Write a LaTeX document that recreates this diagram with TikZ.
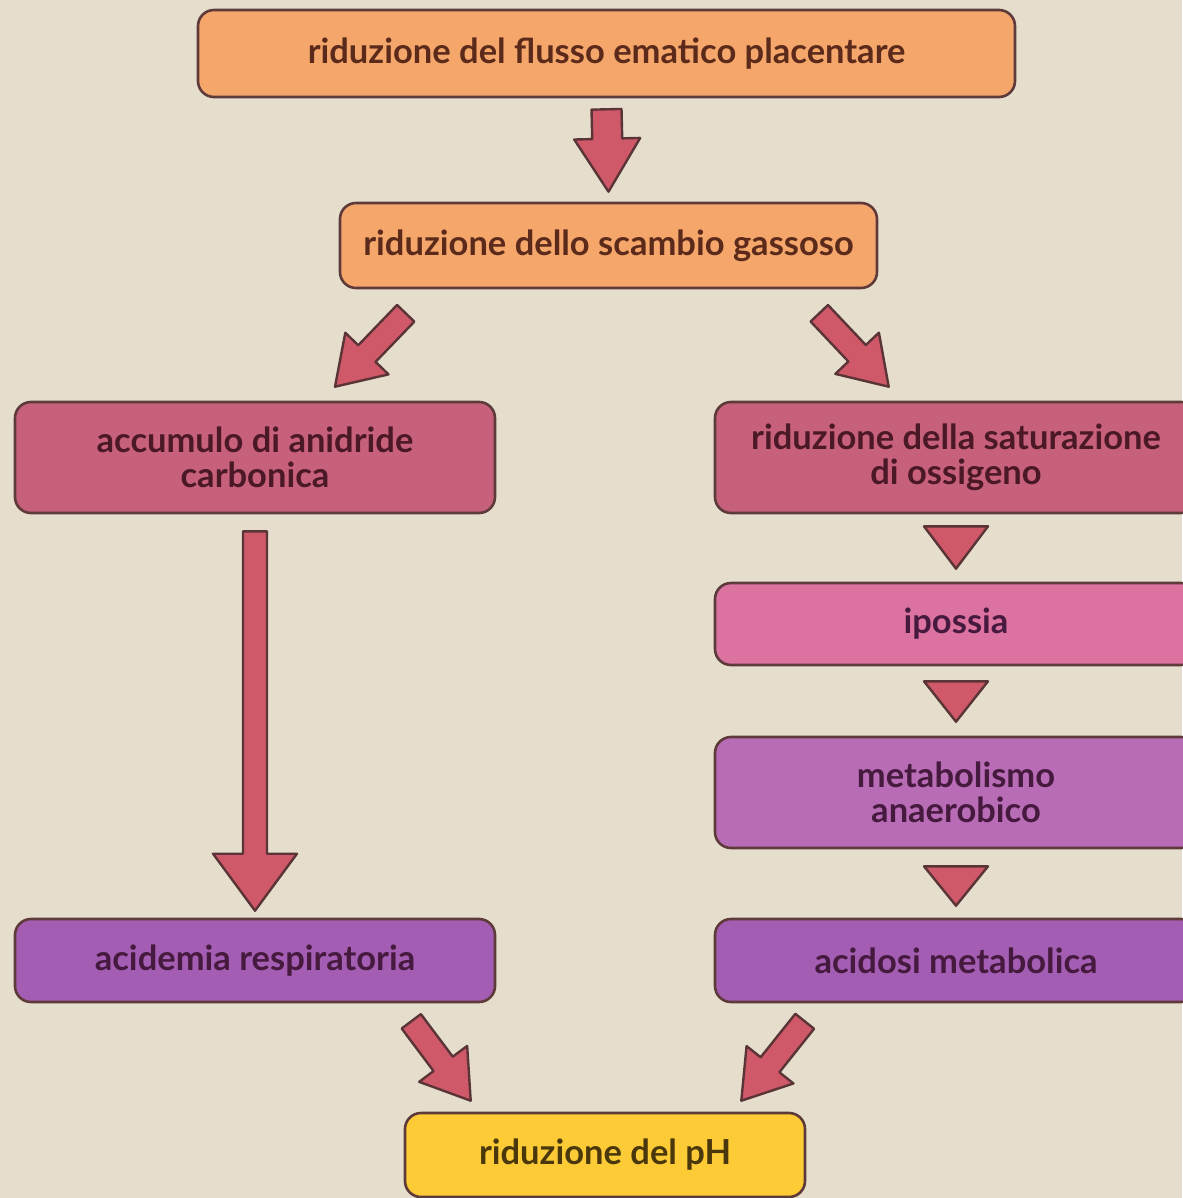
\documentclass[tikz,border=0pt]{standalone}
\usepackage{fontspec}
\setmainfont{Lato}
\usetikzlibrary{calc}
\definecolor{bg}{HTML}{E5DECC}
\definecolor{orng}{HTML}{F4A66B}
\definecolor{rose}{HTML}{C7607A}
\definecolor{pinkb}{HTML}{DB72A0}
\definecolor{mauve}{HTML}{B96CB6}
\definecolor{purp}{HTML}{A35DB2}
\definecolor{yell}{HTML}{FCCB36}
\definecolor{arrfill}{HTML}{CF5968}
\definecolor{arrline}{HTML}{5A3436}
\definecolor{boxline}{HTML}{5E3A3A}
\definecolor{txtor}{HTML}{5B2A1A}
\definecolor{txtro}{HTML}{4A1826}
\definecolor{txtpu}{HTML}{461A3E}
\definecolor{txtye}{HTML}{4A380C}
\newcommand\blockarr[5]{%
  \coordinate (ba-h) at ($(#2)!#5!(#1)$);
  \draw[arrsty] ($(#1)!#3!90:(#2)$) -- ($(ba-h)!#3!90:(#2)$) -- ($(ba-h)!#4!90:(#2)$) -- (#2)
    -- ($(ba-h)!#4!-90:(#2)$) -- ($(ba-h)!#3!-90:(#2)$) -- ($(#1)!#3!-90:(#2)$) -- cycle;
}
\begin{document}
\begin{tikzpicture}[x=1pt,y=-1pt,
  box/.style={draw=boxline, line width=2.6pt, rounded corners=16pt, align=center,
    font=\fontsize{34.5}{35}\selectfont\bfseries, inner sep=0pt},
  arrsty/.style={draw=arrline, fill=arrfill, line width=2.4pt, line join=round}]
\useasboundingbox (0,0) rectangle (1182,1198);
\fill[bg] (0,0) rectangle (1182,1198);

\node[box, fill=orng, text=txtor, minimum width=817pt, minimum height=87pt] (b1) at (606.5,53.5) {riduzione del flusso ematico placentare};
\node[box, fill=orng, text=txtor, minimum width=537pt, minimum height=85pt] (b2) at (608.5,245.5) {riduzione dello scambio gassoso};
\node[box, fill=rose, text=txtro, minimum width=480pt, minimum height=111pt] (b3) at (255,457.5) {accumulo di anidride\\carbonica};
\node[box, fill=rose, text=txtro, minimum width=482pt, minimum height=111pt] (b4) at (956,457.5) {riduzione della saturazione\\di ossigeno};
\node[box, fill=pinkb, text=txtpu, minimum width=482pt, minimum height=82pt] (b5) at (956,624) {ipossia};
\node[box, fill=mauve, text=txtpu, minimum width=482pt, minimum height=111pt] (b6) at (956,792.5) {metabolismo\\anaerobico};
\node[box, fill=purp, text=txtpu, minimum width=482pt, minimum height=83pt] (b7) at (956,960.5) {acidosi metabolica};
\node[box, fill=purp, text=txtpu, minimum width=480pt, minimum height=83pt] (b8) at (255,960.5) {acidemia respiratoria};
\node[box, fill=yell, text=txtye, minimum width=400pt, minimum height=84pt] (b9) at (605,1155) {riduzione del pH};

% block arrows
\coordinate (a1t) at ($(b1.south)+(0,11)$);
\coordinate (a1h) at ($(b2.north)+(0,-10)$);
\blockarr{a1t}{a1h}{15pt}{33pt}{53pt}

\coordinate (d1t) at ($(b2.south west)+(67,24)$);
\coordinate (d1h) at ($(b3.north)+(80,-14)$);
\blockarr{d1t}{d1h}{12pt}{30pt}{46pt}

\coordinate (d2t) at ($(b2.south east)+(-59,24)$);
\coordinate (d2h) at ($(b4.north west)+(175,-14)$);
\blockarr{d2t}{d2h}{12pt}{30pt}{46pt}

\coordinate (vt) at ($(b3.south)+(0,17)$);
\coordinate (vh) at ($(b8.north)+(0,-7)$);
\blockarr{vt}{vh}{12pt}{42pt}{57pt}

\coordinate (e1t) at ($(b8.south east)+(-85,18)$);
\coordinate (e1h) at ($(b9.north west)+(67,-11)$);
\blockarr{e1t}{e1h}{12pt}{30pt}{46pt}

\coordinate (e2t) at ($(b7.south west)+(91,18)$);
\coordinate (e2h) at ($(b9.north east)+(-65,-11)$);
\blockarr{e2t}{e2h}{12pt}{30pt}{46pt}

% triangles
\coordinate (t1h) at ($(b5.north)+(0,-13)$);
\draw[arrsty] ($(b4.south)+(-32,12)$) -- ($(b4.south)+(32,12)$) -- (t1h) -- cycle;
\coordinate (t2h) at ($(b6.north)+(0,-14)$);
\draw[arrsty] ($(b5.south)+(-32,15)$) -- ($(b5.south)+(32,15)$) -- (t2h) -- cycle;
\coordinate (t3h) at ($(b7.north)+(0,-12)$);
\draw[arrsty] ($(b6.south)+(-32,17)$) -- ($(b6.south)+(32,17)$) -- (t3h) -- cycle;
\end{tikzpicture}
\end{document}
